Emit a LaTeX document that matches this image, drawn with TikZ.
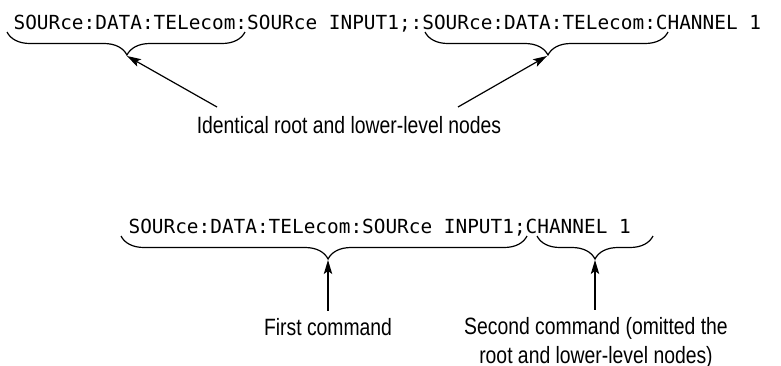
\documentclass[tikz,border=0pt]{standalone}
\usepackage{fontspec}
\setmainfont{Liberation Sans}[FakeStretch=0.82]
\newfontfamily\codefont{DejaVu Sans Mono}
\usetikzlibrary{arrows.meta}
\usetikzlibrary{decorations.pathreplacing}

\begin{document}
\begin{tikzpicture}[x=0.5pt, y=-0.5pt, line width=0.6pt,
  code/.style={inner sep=0, anchor=base west, font=\codefont\fontsize{9.7}{12}\selectfont},
  note/.style={align=center, anchor=base, font=\fontsize{11.8}{14.5}\selectfont},
  group/.style={decorate, decoration={brace, mirror, amplitude=11.5pt, aspect=#1}},
  group/.default=0.5,
  >={Stealth[length=7pt, width=4.2pt, inset=1.5pt]}]

\useasboundingbox (0,0) rectangle (781,365);

\node[code] (cmd_a) at (13,29) {SOURce:DATA:TELecom:SOURce INPUT1;:SOURce:DATA:TELecom:CHANNEL 1};
\node[code] (cmd_b) at (128,233) {SOURce:DATA:TELecom:SOURce INPUT1;CHANNEL 1};

\node[note] (same) at (349,133) {Identical root and lower-level nodes};
\node[note] (first) at (328,335) {First command};
\node[note] (second) at (596,363) {Second command (omitted the\\root and lower-level nodes)};

\draw[group=0.504] (7,32) -- (245,32);
\draw[group=0.506] (425,32) -- (668,32);
\draw[group=0.51] (121,236) -- (527,236);
\draw[group] (537,236) -- (653,236);

\coordinate (tip_a) at (127,56);
\coordinate (tip_b) at (547,56);
\coordinate (tip_c) at (328,260);
\coordinate (tip_d) at (595,260);
\coordinate (from_a) at (217,107);
\coordinate (from_b) at (458,107);

\draw[->] (from_a) -- (tip_a);
\draw[->] (from_b) -- (tip_b);
\draw[->] (first) -- (tip_c);
\draw[->] (second.north -| tip_d) -- (tip_d);

\end{tikzpicture}
\end{document}
